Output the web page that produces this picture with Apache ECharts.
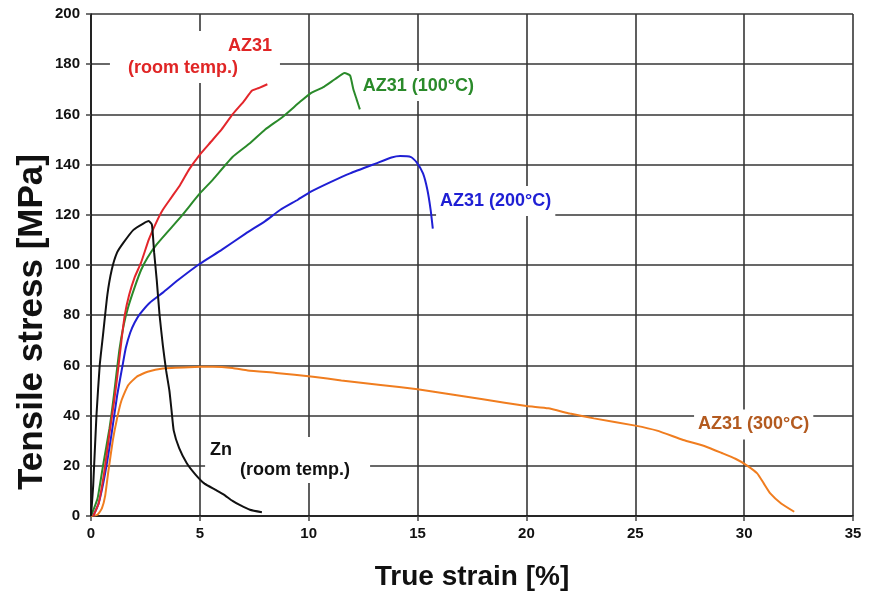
<!DOCTYPE html>
<html>
<head>
<meta charset="utf-8">
<script src="https://cdn.jsdelivr.net/npm/echarts@6/dist/echarts.min.js"></script>
<style>
html,body{margin:0;padding:0;background:#fff;}
#chart{width:871px;height:593px;}
</style>
</head>
<body>
<div id="chart"></div>
<script>
// ---- data (strain %, stress MPa) ----
var xTicks = [0, 5, 10, 15, 20, 25, 30, 35];
var yTicks = [0, 20, 40, 60, 80, 100, 120, 140, 160, 180, 200];

var az31Room = [[0.1,0],[0.35,5],[0.6,17],[0.85,33],[1.05,45],[1.2,55],[1.4,70],[1.55,80],[1.75,88],[2.0,95],[2.3,101],[2.65,110],[3.0,117],[3.3,122],[3.7,127],[4.1,132],[4.5,138],[5.0,144],[5.5,149],[6.0,154],[6.5,160],[7.0,165],[7.4,169.5],[7.7,170.5],[8.1,172]];

var az31_100 = [[0,0],[0.3,7],[0.55,20],[0.85,35],[1.05,48],[1.3,66],[1.5,76],[1.7,83],[2.0,91],[2.3,98],[2.6,103],[3.0,108],[3.6,114],[4.2,120],[5.0,128.5],[5.6,134],[6.5,143],[7.3,148.5],[8.0,154],[8.8,159],[9.6,165],[10.1,168.5],[10.7,171],[11.2,174],[11.65,176.5],[11.9,175.5],[12.05,170],[12.2,166],[12.35,162]];

var az31_200 = [[0.1,0],[0.35,5],[0.65,17],[0.95,33],[1.2,48],[1.45,60],[1.6,67],[1.8,73],[2.0,77],[2.25,80.5],[2.7,85],[3.3,89],[4.0,94],[5.0,100.5],[6.0,106],[7.1,112.5],[8.0,117.5],[8.7,122],[9.5,126],[10.1,129.2],[11.0,133],[11.9,136.5],[13.1,140.5],[13.8,142.8],[14.2,143.4],[14.7,143],[14.95,141],[15.25,136.5],[15.45,130],[15.6,122],[15.7,114.5]];

var az31_300 = [[0,0],[0.3,0.5],[0.5,3],[0.65,8],[0.8,18],[1.0,30],[1.2,39],[1.4,46],[1.7,52],[2.1,55.5],[2.6,57.5],[3.3,58.8],[4.5,59.3],[5.6,59.5],[6.5,59],[7.2,58],[8.5,57],[10.2,55.5],[11.5,54],[13.3,52.2],[15,50.5],[16.5,48.5],[18,46.5],[20,43.8],[21,42.9],[22,40.8],[23.1,38.9],[25,36],[26,34],[27.2,30.3],[28.2,27.8],[29,25],[29.6,22.8],[30.1,20.3],[30.6,17],[30.9,13],[31.2,9],[31.7,5],[32.3,1.7]];

var znRoom = [[0,0],[0.1,12],[0.25,40],[0.4,60],[0.55,72],[0.75,88],[0.95,98],[1.2,105],[1.5,109],[1.95,114],[2.4,116.5],[2.65,117.5],[2.8,116],[2.9,105],[3.02,94],[3.15,80],[3.3,68],[3.45,58],[3.6,50],[3.7,42],[3.8,34],[4.05,27],[4.4,21],[4.8,16.5],[5.2,13],[5.7,10.5],[6.1,8.5],[6.5,6],[6.85,4.3],[7.3,2.5],[7.85,1.5]];

// label anchors (data coordinates of the left-middle of each label box)
var labelRoomAZ = [0.87, 182.9];
var label100 = [12.3, 171.3];
var label200 = [15.85, 125.5];
var label300 = [27.7, 36.5];
var labelZn = [5.24, 22.3];

var FONT = "'Liberation Sans', Arial, sans-serif";

function curve(name, data, color) {
  return {
    name: name, type: 'line', data: data, showSymbol: false, smooth: 0.15,
    lineStyle: {color: color, width: 2}, itemStyle: {color: color},
    silent: true, z: 3, animation: false
  };
}
function tag(pos, text, color, rich, padding) {
  return {
    type: 'scatter', data: [pos], symbolSize: 0, silent: true, z: 5, animation: false,
    itemStyle: {opacity: 1, color: color},
    label: {
      show: true, position: 'right', distance: 0, formatter: text,
      color: color, fontFamily: FONT, fontWeight: 'bold', fontSize: 18,
      backgroundColor: '#fff', padding: padding || [6, 4, 6, 4],
      rich: rich || {}
    }
  };
}

var chart = echarts.init(document.getElementById('chart'), null, {renderer: 'canvas'});
chart.setOption({
  backgroundColor: '#fff',
  animation: false,
  grid: {left: 91, right: 18, top: 14, bottom: 77, containLabel: false},
  xAxis: {
    type: 'value', min: 0, max: 35, interval: 5,
    axisLine: {show: true, onZero: false, lineStyle: {color: '#111', width: 1.5}},
    axisTick: {show: true, length: 5, lineStyle: {color: '#444', width: 1.5}},
    axisLabel: {color: '#111', fontFamily: FONT, fontWeight: 'bold', fontSize: 15, margin: 10,
      formatter: function (v) { return xTicks.indexOf(v) >= 0 ? String(v) : ''; }},
    splitLine: {show: true, lineStyle: {color: '#363636', width: 1.6}}
  },
  yAxis: {
    type: 'value', min: 0, max: 200, interval: 20,
    axisLine: {show: true, onZero: false, lineStyle: {color: '#111', width: 1.5}},
    axisTick: {show: true, length: 5, lineStyle: {color: '#444', width: 1.5}},
    axisLabel: {color: '#111', fontFamily: FONT, fontWeight: 'bold', fontSize: 15, margin: 11,
      formatter: function (v) { return yTicks.indexOf(v) >= 0 ? String(v) : ''; }},
    splitLine: {show: true, lineStyle: {color: '#363636', width: 1.6}}
  },
  graphic: [
    {type: 'text', x: 472, y: 577, z: 10,
      style: {text: 'True strain [%]', fontFamily: FONT, fontWeight: 'bold', fontSize: 28, fill: '#111',
        align: 'center', verticalAlign: 'middle'}},
    {type: 'text', x: 32, y: 322, rotation: Math.PI / 2, z: 10,
      style: {text: 'Tensile stress [MPa]', fontFamily: FONT, fontWeight: 'bold', fontSize: 35, fill: '#111',
        align: 'center', verticalAlign: 'middle'}}
  ],
  series: [
    curve('AZ31 (300°C)', az31_300, '#f07d1f'),
    curve('AZ31 (200°C)', az31_200, '#1f1fd4'),
    curve('AZ31 (100°C)', az31_100, '#2a8a2a'),
    curve('AZ31 (room temp.)', az31Room, '#e3262b'),
    curve('Zn (room temp.)', znRoom, '#111111'),
    tag(labelRoomAZ, '{a|AZ31}\n{b|(room temp.)}', '#e02525',
      {a: {padding: [0, 0, 0, 100], lineHeight: 22, fontSize: 18, fontWeight: 'bold', fontFamily: FONT, color: '#e02525'},
       b: {lineHeight: 22, fontSize: 18, fontWeight: 'bold', fontFamily: FONT, color: '#e02525'}},
      [4, 8, 4, 18]),
    tag(label100, 'AZ31 (100°C)', '#2a8a2a'),
    tag(label200, 'AZ31 (200°C)', '#1f1fd4'),
    tag(label300, 'AZ31 (300°C)', '#b35a1f'),
    tag(labelZn, '{a|Zn}\n{b|(room temp.)}', '#111',
      {a: {lineHeight: 20, fontSize: 18, fontWeight: 'bold', fontFamily: FONT, color: '#111'},
       b: {padding: [0, 0, 0, 30], lineHeight: 20, fontSize: 18, fontWeight: 'bold', fontFamily: FONT, color: '#111'}},
      [3, 20, 3, 5])
  ]
});
</script>
</body>
</html>
